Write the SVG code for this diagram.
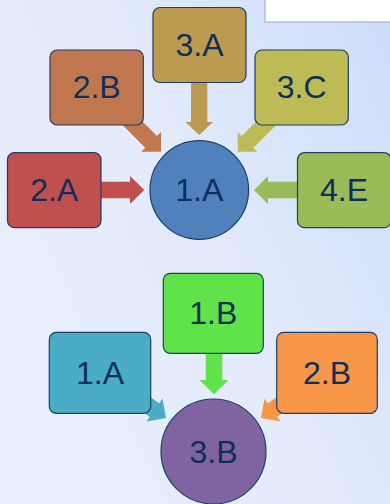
<svg xmlns="http://www.w3.org/2000/svg" width="390" height="504" viewBox="0 0 390 504">
<defs>
<linearGradient id="bg" x1="1" y1="0" x2="0" y2="0.6">
<stop offset="0" stop-color="#ccdcf9"/>
<stop offset="0.55" stop-color="#e3ebfc"/>
<stop offset="1" stop-color="#e8eefd"/>
</linearGradient>
<polygon id="arr" points="-50,-8.3 -14,-8.3 -14,-14 0,0 -14,14 -14,8.3 -50,8.3"/>
</defs>
<style>
.box{stroke:#1f3d66;stroke-width:1.2}
.lbl{font-family:"Liberation Sans",Arial,sans-serif;font-size:32px;fill:#0d2f5c;text-anchor:middle}
</style>
<rect x="0" y="0" width="390" height="504" fill="url(#bg)"/>
<rect x="265" y="-2" width="127" height="24" fill="#ffffff" stroke="#a9b7c9" stroke-width="1.2"/>
<g id="connectors">
<polygon fill="#c0504d" points="101,181.7 130,181.7 130,176 144.3,190 130,204 130,198.3 101,198.3"/>
<polygon fill="#9bbb59" points="297,181.7 268,181.7 268,176 254,190 268,204 268,198.3 297,198.3"/>
<polygon fill="#bd9a52" points="191,82 191,122 185.5,122 199.2,135 213,122 207.3,122 207.3,82"/>
<use href="#arr" fill="#c2784f" transform="translate(161,151.7) rotate(45)"/>
<use href="#arr" fill="#bdbb56" transform="translate(237.7,151.7) rotate(135)"/>
<polygon fill="#5fe348" points="205.7,353 205.7,380 199.5,380 214,394.3 228.5,380 222.3,380 222.3,353"/>
<use href="#arr" fill="#4bacc6" transform="translate(166,418) rotate(34.7)"/>
<use href="#arr" fill="#f79646" transform="translate(261,418) rotate(145.3)"/>
</g>
<g id="n3A"><rect class="box" x="153" y="7.5" width="93" height="75" rx="7" fill="#bd9a52"/><text class="lbl" x="199.5" y="55.5">3.A</text></g>
<g id="n2B"><rect class="box" x="50" y="50" width="93.3" height="75" rx="7" fill="#c0774f"/><text class="lbl" x="96.7" y="98.3">2.B</text></g>
<g id="n3C"><rect class="box" x="255" y="50" width="93.3" height="75" rx="7" fill="#bdbb56"/><text class="lbl" x="301.7" y="98.3">3.C</text></g>
<g id="n2A"><rect class="box" x="7.5" y="152.7" width="93.5" height="75" rx="7" fill="#c0504d"/><text class="lbl" x="54.2" y="201">2.A</text></g>
<g id="n4E"><rect class="box" x="297.5" y="152.7" width="93.5" height="75" rx="7" fill="#9bbb59"/><text class="lbl" x="344" y="201">4.E</text></g>
<g id="n1A"><circle class="box" cx="199.3" cy="190" r="49.3" fill="#4f81bd"/><text class="lbl" x="199.3" y="201">1.A</text></g>
<g id="n1B"><rect class="box" x="163.3" y="273.3" width="100" height="80" rx="7" fill="#5fe348"/><text class="lbl" x="213.3" y="324">1.B</text></g>
<g id="n1Alow"><rect class="box" x="49.3" y="332.3" width="101.4" height="81" rx="7" fill="#4bacc6"/><text class="lbl" x="100" y="384">1.A</text></g>
<g id="n2Blow"><rect class="box" x="276.7" y="332.3" width="100.6" height="81" rx="7" fill="#f79646"/><text class="lbl" x="327" y="384">2.B</text></g>
<g id="n3B"><circle class="box" cx="213.5" cy="451.5" r="52.5" fill="#8064a2"/><text class="lbl" x="213.5" y="463">3.B</text></g>
</svg>
